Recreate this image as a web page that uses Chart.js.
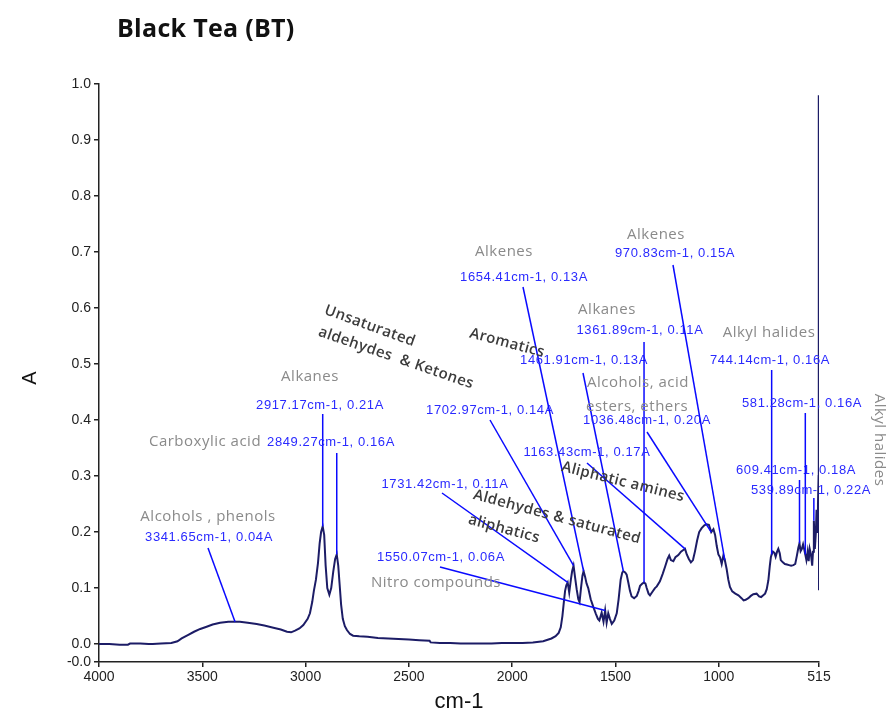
<!DOCTYPE html>
<html>
<head>
<meta charset="utf-8">
<title>Black Tea (BT)</title>
<script src="https://cdn.jsdelivr.net/npm/chart.js@4.4.0/dist/chart.umd.min.js"></script>
<style>
  html, body { margin: 0; padding: 0; background: #fff; }
  canvas { display: block; }
</style>
</head>
<body>
<canvas id="spectrum" width="889" height="714"></canvas>
<script>
// FTIR absorbance spectrum of black tea, 4000 -> 515 cm-1
const wavenumbers = [
  4000, 3950, 3900, 3860, 3850, 3800, 3760, 3740, 3700, 3650, 3620, 3600,
  3570, 3540, 3510, 3479, 3450, 3414, 3374, 3341.65, 3318, 3280, 3237, 3200,
  3156, 3120, 3090, 3070, 3051, 3030, 3011, 2990, 2979, 2968, 2960, 2950,
  2940, 2932, 2925, 2917.17, 2910, 2903, 2895, 2885, 2876, 2866, 2857, 2849.27,
  2842, 2836, 2828, 2820, 2810, 2800, 2785, 2770, 2740, 2700, 2650, 2600,
  2550, 2500, 2450, 2400, 2395, 2350, 2300, 2250, 2200, 2150, 2100, 2050,
  2000, 1950, 1900, 1850, 1810, 1790, 1775, 1765, 1757, 1750, 1744, 1738,
  1731.42, 1724, 1716, 1710, 1702.97, 1696, 1688, 1680, 1674, 1667, 1660, 1654.41,
  1647, 1640, 1632, 1620, 1607, 1595, 1585, 1578, 1567, 1558, 1550.07, 1543,
  1535, 1527, 1518, 1506, 1494, 1485, 1475, 1467, 1461.91, 1453, 1446, 1438,
  1430, 1422, 1410, 1397, 1388, 1381, 1370, 1361.89, 1355, 1349, 1340, 1333,
  1322, 1309, 1300, 1285, 1272, 1260, 1248, 1240, 1232, 1220, 1210, 1196,
  1183, 1172, 1163.43, 1155, 1145, 1135, 1125, 1115, 1105, 1095, 1083, 1070,
  1059, 1048, 1036.48, 1026, 1018, 1010, 1002, 994, 986, 978, 970.83, 962,
  954, 946, 935, 920, 905, 890, 880, 870, 857, 845, 833, 817,
  805, 795, 785, 776, 768, 760, 753, 748, 744.14, 738, 731, 725,
  718, 712, 705, 700, 690, 680, 670, 660, 650, 639, 630, 622,
  615, 609.41, 604, 598, 592, 587, 581.28, 576, 570, 565, 560, 554,
  548, 544, 539.89, 535, 530, 527, 523, 520, 517, 516, 515
];
const absorbance = [
  0.000, 0.000, -0.001, -0.001, 0.001, 0.001, 0.000, 0.000, 0.001, 0.002, 0.005, 0.010,
  0.016, 0.022, 0.027, 0.031, 0.035, 0.038, 0.040, 0.040, 0.040, 0.038, 0.036, 0.033,
  0.029, 0.026, 0.022, 0.021, 0.024, 0.028, 0.034, 0.045, 0.055, 0.075, 0.095, 0.115,
  0.145, 0.180, 0.200, 0.210, 0.195, 0.140, 0.100, 0.088, 0.100, 0.130, 0.152, 0.160,
  0.140, 0.110, 0.070, 0.045, 0.032, 0.025, 0.018, 0.015, 0.014, 0.013, 0.011, 0.010,
  0.009, 0.008, 0.007, 0.006, 0.003, 0.002, 0.002, 0.001, 0.001, 0.001, 0.001, 0.002,
  0.002, 0.002, 0.003, 0.005, 0.010, 0.014, 0.020, 0.030, 0.050, 0.075, 0.095, 0.105,
  0.110, 0.092, 0.115, 0.130, 0.140, 0.120, 0.098, 0.080, 0.075, 0.100, 0.122, 0.130,
  0.120, 0.108, 0.100, 0.080, 0.066, 0.054, 0.045, 0.042, 0.056, 0.040, 0.060, 0.038,
  0.055, 0.045, 0.036, 0.042, 0.055, 0.080, 0.115, 0.128, 0.130, 0.128, 0.124, 0.110,
  0.095, 0.085, 0.082, 0.086, 0.095, 0.104, 0.108, 0.110, 0.108, 0.100, 0.090, 0.087,
  0.093, 0.100, 0.103, 0.112, 0.125, 0.138, 0.152, 0.158, 0.150, 0.148, 0.155, 0.159,
  0.165, 0.168, 0.170, 0.160, 0.152, 0.146, 0.150, 0.166, 0.185, 0.200, 0.207, 0.212,
  0.214, 0.213, 0.200, 0.205, 0.195, 0.175, 0.160, 0.155, 0.143, 0.158, 0.150, 0.134,
  0.115, 0.102, 0.094, 0.090, 0.087, 0.082, 0.078, 0.079, 0.082, 0.086, 0.089, 0.090,
  0.085, 0.084, 0.087, 0.090, 0.098, 0.114, 0.140, 0.155, 0.160, 0.165, 0.163, 0.156,
  0.165, 0.170, 0.162, 0.150, 0.146, 0.143, 0.142, 0.141, 0.140, 0.141, 0.143, 0.158,
  0.172, 0.180, 0.166, 0.170, 0.178, 0.170, 0.160, 0.150, 0.165, 0.148, 0.170, 0.160,
  0.140, 0.165, 0.220, 0.170, 0.200, 0.240, 0.200, 0.250, 0.300, 0.980, 0.096
];

const xTicks = [4000, 3500, 3000, 2500, 2000, 1500, 1000, 515];
const yTicks = [0, 0.1, 0.2, 0.3, 0.4, 0.5, 0.6, 0.7, 0.8, 0.9, 1.0];
const yMin = -0.032;

// picked peaks and their band assignments
const peakWavenumbers = [3341.65, 2917.17, 2849.27, 1731.42, 1702.97, 1654.41, 1550.07, 1461.91,
  1361.89, 1163.43, 1036.48, 970.83, 744.14, 609.41, 581.28, 539.89];
const peakValues = [0.04, 0.21, 0.16, 0.11, 0.14, 0.13, 0.06, 0.13,
  0.11, 0.17, 0.20, 0.15, 0.16, 0.18, 0.16, 0.22];
const peakGroups = [['Alcohols , phenols'], ['Alkanes'], ['Carboxylic acid'], [], [], ['Alkenes'],
  ['Nitro compounds'], [], ['Alkanes'], [], ['Alcohols, acid', 'esters, ethers'], ['Alkenes'],
  ['Alkyl halides'], [], [], []];

// rotated band notes
const noteTexts = ['Unsaturated', 'aldehydes  & Ketones', 'Aromatics', 'Aldehydes & saturated',
  'aliphatics', 'Aliphatic amines'];

// where each peak caption sits: value text centre, group text centres, leader start (null x = straight down)
const peakLayout = [
  { text: [209, 537], groups: [[208, 517]], from: [208, 548] },
  { text: [320, 405], groups: [[310, 377]], from: [null, 414] },
  { text: [331, 442], groups: [[205, 442]], from: [null, 453] },
  { text: [445, 484], groups: [], from: [442, 493] },
  { text: [490, 410], groups: [], from: [490, 420] },
  { text: [524, 277], groups: [[504, 252]], from: [523, 287] },
  { text: [441, 557], groups: [[436, 583]], from: [440, 567] },
  { text: [584, 360], groups: [], from: [583, 373] },
  { text: [640, 330], groups: [[607, 310]], from: [null, 342] },
  { text: [587, 452], groups: [], from: [587, 463] },
  { text: [647, 420], groups: [[638, 383], [637, 407]], from: [647, 432] },
  { text: [675, 253], groups: [[656, 235]], from: [673, 265] },
  { text: [770, 360], groups: [[769, 333]], from: [null, 370] },
  { text: [796, 470], groups: [], from: [null, 480] },
  { text: [802, 403], groups: [], from: [null, 413] },
  { text: [811, 490], groups: [], from: [null, 498] }
];
const noteLayout = [
  { at: [370, 326], angle: 20 },
  { at: [396, 358], angle: 19 },
  { at: [507, 343], angle: 15 },
  { at: [557, 517], angle: 15 },
  { at: [504, 529], angle: 15 },
  { at: [623, 482], angle: 14 }
];

const BLUE_TEXT = '#2a2aff';
const BLUE_LINE = '#0a0aff';
const GREY_TEXT = '#8a8a8a';
const DARK_TEXT = '#3c3c3c';

const annotate = {
  id: 'annotate',
  afterDatasetsDraw(chart) {
    const { ctx, scales: { x, y } } = chart;
    ctx.save();
    ctx.textAlign = 'center';
    ctx.textBaseline = 'middle';

    peakWavenumbers.forEach((wn, i) => {
      const lay = peakLayout[i];
      const px = x.getPixelForValue(wn);
      const py = y.getPixelForValue(peakValues[i]);
      const sx = lay.from[0] === null ? px : lay.from[0];

      ctx.strokeStyle = BLUE_LINE;
      ctx.lineWidth = 1.5;
      ctx.beginPath();
      ctx.moveTo(sx, lay.from[1]);
      ctx.lineTo(px, py);
      ctx.stroke();

      ctx.fillStyle = BLUE_TEXT;
      ctx.font = '13px "Liberation Sans", Arial, sans-serif';
      ctx.letterSpacing = '0.6px';
      ctx.fillText(wn.toFixed(2) + 'cm-1, ' + peakValues[i].toFixed(2) + 'A', lay.text[0], lay.text[1]);

      ctx.fillStyle = GREY_TEXT;
      ctx.font = '15px "Open Sans", sans-serif';
      ctx.letterSpacing = '0.5px';
      peakGroups[i].forEach((g, k) => {
        ctx.fillText(g, lay.groups[k][0], lay.groups[k][1]);
      });
    });

    ctx.fillStyle = DARK_TEXT;
    ctx.font = '600 15px "Open Sans", sans-serif';
    ctx.letterSpacing = '0.4px';
    noteTexts.forEach((t, i) => {
      const n = noteLayout[i];
      ctx.save();
      ctx.translate(n.at[0], n.at[1]);
      ctx.rotate(n.angle * Math.PI / 180);
      ctx.fillText(t, 0, 0);
      ctx.restore();
    });

    // assignment for the fingerprint end, written down the right margin
    ctx.save();
    ctx.fillStyle = GREY_TEXT;
    ctx.font = '15px "Open Sans", sans-serif';
    ctx.letterSpacing = '0.5px';
    ctx.translate(879, 440);
    ctx.rotate(Math.PI / 2);
    ctx.fillText('Alkyl halides', 0, 0);
    ctx.restore();

    ctx.restore();
  },
  afterDraw(chart) {
    const { ctx, chartArea } = chart;
    ctx.save();
    ctx.fillStyle = '#111';
    ctx.textBaseline = 'middle';
    ctx.textAlign = 'left';
    ctx.font = 'bold 25px "Open Sans", sans-serif';
    ctx.letterSpacing = '0.3px';
    ctx.fillText('Black Tea (BT)', 117, 30);
    ctx.letterSpacing = '0px';

    ctx.textAlign = 'center';
    ctx.font = '22px "Liberation Sans", Arial, sans-serif';
    ctx.fillText('cm-1', (chartArea.left + chartArea.right) / 2, 702);

    ctx.save();
    ctx.translate(30, 378);
    ctx.rotate(-Math.PI / 2);
    ctx.font = '20px "Liberation Sans", Arial, sans-serif';
    ctx.fillText('A', 0, 0);
    ctx.restore();
    ctx.restore();
  }
};

const axisFont = { family: '"Liberation Sans", Arial, sans-serif', size: 14 };

new Chart(document.getElementById('spectrum'), {
  type: 'line',
  data: {
    datasets: [{
      data: wavenumbers.map((w, i) => ({ x: w, y: absorbance[i] })),
      borderColor: '#1c1c66',
      borderWidth: 2,
      pointRadius: 0,
      tension: 0
    }]
  },
  options: {
    responsive: false,
    animation: false,
    devicePixelRatio: 1,
    layout: { padding: { top: 84, right: 70, left: 0, bottom: 0 } },
    plugins: { legend: { display: false }, tooltip: { enabled: false } },
    scales: {
      x: {
        type: 'linear',
        reverse: true,
        min: 515,
        max: 4000,
        afterBuildTicks: s => { s.ticks = xTicks.map(v => ({ value: v })); },
        afterFit: s => { s.height = 52; },
        grid: { drawOnChartArea: false, tickLength: 5, color: '#222', lineWidth: 1.5 },
        border: { color: '#222', width: 1.5 },
        ticks: { color: '#222', font: axisFont, maxRotation: 0, autoSkip: false, padding: 2,
          callback: v => String(v) }
      },
      y: {
        min: yMin,
        max: 1.0,
        afterBuildTicks: s => { s.ticks = [{ value: yMin }].concat(yTicks.map(v => ({ value: v }))); },
        afterFit: s => { s.width = 99; },
        grid: { drawOnChartArea: false, tickLength: 5, color: '#222', lineWidth: 1.5 },
        border: { color: '#222', width: 1.5 },
        ticks: { color: '#222', font: axisFont, padding: 3, autoSkip: false,
          callback: v => (v < 0 ? '-0.0' : v.toFixed(1)) }
      }
    }
  },
  plugins: [annotate]
});
</script>
</body>
</html>
